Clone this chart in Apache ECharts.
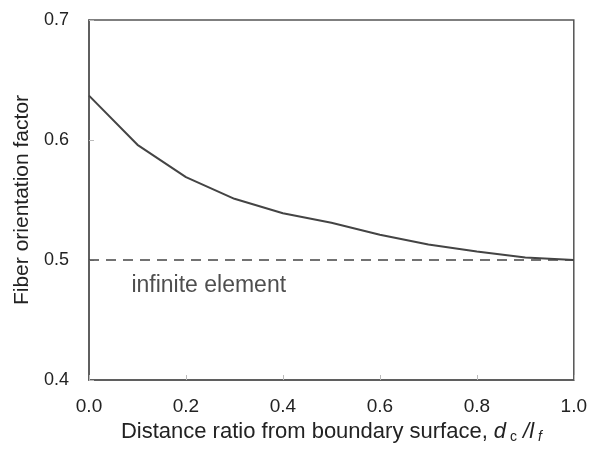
<!DOCTYPE html>
<html>
<head>
<meta charset="utf-8">
<script src="https://cdn.jsdelivr.net/npm/echarts@6/dist/echarts.min.js"></script>
<style>
  html, body { margin: 0; padding: 0; background: #fff; }
  #chart { width: 590px; height: 449px; }
</style>
</head>
<body>
<div id="chart"></div>
<script>
// Distance ratio from the boundary surface (d_c / l_f)
const distanceRatio = [0.0, 0.1, 0.2, 0.3, 0.4, 0.5, 0.6, 0.7, 0.8, 0.9, 1.0];
// Fiber orientation factor near the boundary
const orientationFactor = [0.637, 0.596, 0.569, 0.551, 0.539, 0.531, 0.521, 0.513, 0.507, 0.502, 0.500];
// Reference value for an infinite element
const infiniteValue = 0.5;
const infiniteLabel = 'infinite element';
const infiniteLabelAt = [0.247, 0.479];

const font = '"Liberation Sans", Arial, sans-serif';
const ink = '#222';
const lineColor = '#444';

const chart = echarts.init(document.getElementById('chart'), null, { renderer: 'canvas' });

chart.setOption({
  animation: false,
  backgroundColor: '#fff',
  grid: {
    left: 89, top: 20, width: 490, height: 363,
    show: true, borderColor: '#555', borderWidth: 1.5, backgroundColor: 'transparent'
  },
  xAxis: {
    type: 'value', min: 0, max: 1, interval: 0.2,
    name: 'Distance ratio from boundary surface, {i|d}{s| c}{i| /l}{si| f}',
    nameLocation: 'middle', nameGap: 40,
    nameTextStyle: {
      fontFamily: font, fontSize: 22, color: ink,
      rich: {
        i: { fontFamily: font, fontSize: 22, fontStyle: 'italic', color: ink },
        s: { fontFamily: font, fontSize: 14, color: ink, padding: [10, 0, 0, 0] },
        si: { fontFamily: font, fontSize: 14, fontStyle: 'italic', color: ink, padding: [10, 0, 0, 0] }
      }
    },
    axisLine: { lineStyle: { color: '#555', width: 1.5 } },
    axisTick: { show: true, inside: true, length: 5, lineStyle: { color: '#bbb' } },
    splitLine: { show: false },
    axisLabel: {
      fontFamily: font, fontSize: 19, color: ink, margin: 17,
      formatter: v => v.toFixed(1)
    }
  },
  yAxis: {
    type: 'value', min: 0.4, max: 0.7, interval: 0.1,
    name: 'Fiber orientation factor',
    nameLocation: 'middle', nameGap: 56,
    nameTextStyle: { fontFamily: font, fontSize: 21, color: ink },
    axisLine: { show: true, lineStyle: { color: '#555', width: 1.5 } },
    axisTick: { show: true, inside: true, length: 5, lineStyle: { color: '#bbb' } },
    splitLine: { show: false },
    axisLabel: {
      fontFamily: font, fontSize: 18, color: ink, margin: 20,
      formatter: v => v.toFixed(1)
    }
  },
  series: [
    {
      type: 'line',
      data: distanceRatio.map((x, i) => [x, orientationFactor[i]]),
      showSymbol: false, symbol: 'none',
      lineStyle: { color: lineColor, width: 2 },
      z: 3
    },
    {
      type: 'line',
      data: [[0, infiniteValue], [1, infiniteValue]],
      showSymbol: false, symbol: 'none',
      lineStyle: { color: lineColor, width: 1.5, type: [10, 7] },
      z: 2
    },
    {
      type: 'scatter',
      data: [infiniteLabelAt],
      symbolSize: 0,
      silent: true,
      label: {
        show: true, position: 'inside', formatter: infiniteLabel,
        fontFamily: font, fontSize: 23, color: ink
      }
    }
  ]
});
</script>
</body>
</html>
